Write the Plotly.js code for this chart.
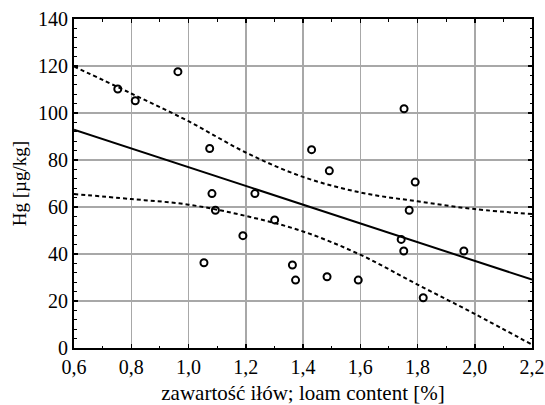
<!DOCTYPE html>
<html>
<head>
<meta charset="utf-8">
<script src="https://cdn.plot.ly/plotly-3.0.1.min.js"></script>
<style>html,body{margin:0;padding:0;background:#fff;}#chart{width:545px;height:405px;}</style>
</head>
<body>
<div id="chart"></div>
<script>
// observed points: loam content [%] vs Hg [µg/kg]
const loam = [0.753, 0.814, 0.963, 1.074, 1.430, 1.492, 1.753, 1.792, 1.082, 1.094, 1.232, 1.301,
              1.190, 1.054, 1.363, 1.374, 1.771, 1.743, 1.752, 1.962, 1.484, 1.593, 1.820];
const hg   = [110.2, 105.2, 117.6, 84.9, 84.4, 75.4, 101.8, 70.6, 65.7, 58.6, 65.7, 54.5,
              47.8, 36.3, 35.3, 28.9, 58.6, 46.2, 41.3, 41.3, 30.3, 28.9, 21.4];
// regression line (read at the plot edges)
const fitX = [0.6, 2.2];
const fitY = [92.9, 29.1];
// confidence bands
const bandX = [0.6, 0.8, 1.0, 1.2, 1.4, 1.6, 1.8, 2.0, 2.2];
const upperY = [119.8, 108.3, 96.5, 83.2, 72.8, 66.2, 62.4, 59.1, 57.0];
const lowerY = [65.5, 63.4, 61.0, 56.2, 49.6, 39.7, 27.0, 14.5, 1.4];
const xTicks = [0.6, 0.8, 1.0, 1.2, 1.4, 1.6, 1.8, 2.0, 2.2];
const yTicks = [0, 20, 40, 60, 80, 100, 120, 140];

const font = 'Liberation Serif, Times New Roman, serif';
const dashStyle = {color: '#000', width: 2, dash: '4px,3px', shape: 'spline'};

const traces = [
  {x: bandX, y: upperY, mode: 'lines', line: dashStyle, hoverinfo: 'skip'},
  {x: bandX, y: lowerY, mode: 'lines', line: dashStyle, hoverinfo: 'skip'},
  {x: fitX, y: fitY, mode: 'lines', line: {color: '#000', width: 2}},
  {x: loam, y: hg, mode: 'markers',
   marker: {symbol: 'circle-open', size: 7, color: '#000', line: {color: '#000', width: 2}}}
];

const axisCommon = {
  showline: true, linecolor: '#000', linewidth: 2, mirror: 'allticks',
  showgrid: true, gridcolor: '#a8a8a8', gridwidth: 1.5,
  zeroline: false, ticks: 'inside', ticklen: 4, tickwidth: 1.5, tickcolor: '#000',
  tickfont: {family: font, size: 20, color: '#000'}
};

const layout = {
  width: 545, height: 405,
  margin: {l: 74, r: 13, t: 19, b: 57},
  paper_bgcolor: '#fff', plot_bgcolor: '#fff',
  showlegend: false,
  separators: ', ',
  font: {family: font, color: '#000'},
  xaxis: Object.assign({}, axisCommon, {
    range: [0.6, 2.2], tickmode: 'array', tickvals: xTicks,
    ticktext: xTicks.map(v => v.toFixed(1).replace('.', ',')),
    minor: {dtick: 0.1, tick0: 0.6, ticks: 'inside', ticklen: 2.5, tickwidth: 1.2, tickcolor: '#000', showgrid: false},
    title: {text: 'zawartość iłów; loam content [%]', font: {family: font, size: 21, color: '#000'}, standoff: 9}
  }),
  yaxis: Object.assign({}, axisCommon, {
    range: [0, 140], tickmode: 'array', tickvals: yTicks,
    minor: {dtick: 4, tick0: 0, ticks: 'inside', ticklen: 2.5, tickwidth: 1.2, tickcolor: '#000', showgrid: false},
    title: {text: 'Hg [µg/kg]', font: {family: font, size: 19, color: '#000'}, standoff: 6}
  })
};

Plotly.newPlot('chart', traces, layout, {staticPlot: true, displayModeBar: false});
</script>
</body>
</html>
